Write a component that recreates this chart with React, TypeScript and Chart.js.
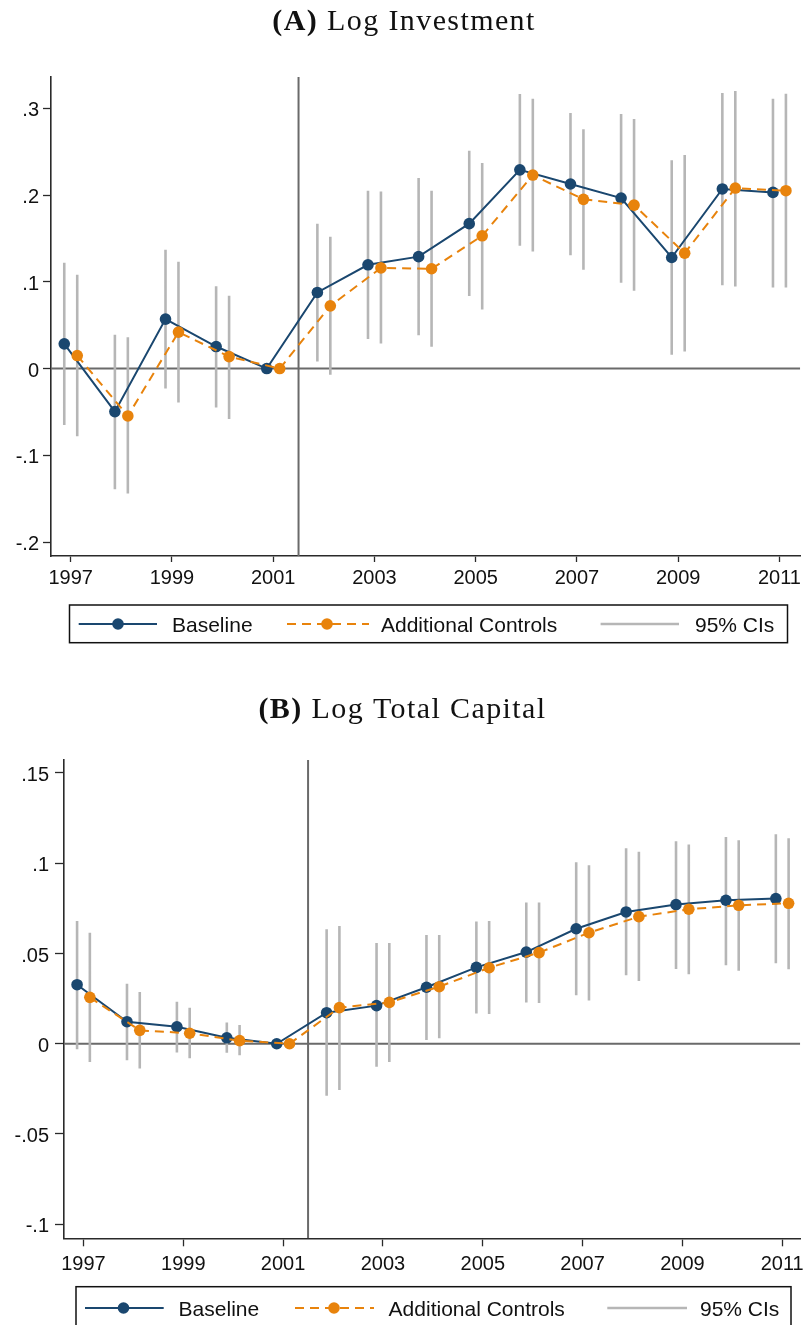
import React, { useEffect, useRef } from "react";
import { Chart, registerables } from "chart.js";

Chart.register(...registerables);

// ---------- data ----------
const years = [1997, 1998, 1999, 2000, 2001, 2002, 2003, 2004, 2005, 2006, 2007, 2008, 2009, 2010, 2011];
const xTickValues = [1997, 1999, 2001, 2003, 2005, 2007, 2009, 2011];
const xTickLabels = ["1997", "1999", "2001", "2003", "2005", "2007", "2009", "2011"];
const eventYear = 2001.5;

// Panel A: Log Investment
const invBase = [0.0285, -0.0496, 0.057, 0.0254, 0, 0.0877, 0.1196, 0.129, 0.167, 0.229, 0.2127, 0.1965, 0.128, 0.207, 0.203];
const invBaseLo = [-0.065, -0.139, -0.023, -0.045, null, 0.008, 0.034, 0.0385, 0.0835, 0.1415, 0.1307, 0.099, 0.0158, 0.096, 0.0934];
const invBaseHi = [0.122, 0.039, 0.137, 0.095, null, 0.167, 0.205, 0.2196, 0.251, 0.3165, 0.2946, 0.2934, 0.24, 0.3176, 0.311];
const invCtrl = [0.015, -0.0546, 0.042, 0.0138, 0, 0.0723, 0.116, 0.115, 0.153, 0.223, 0.195, 0.1884, 0.133, 0.208, 0.205];
const invCtrlLo = [-0.078, -0.144, -0.039, -0.058, null, -0.007, 0.029, 0.025, 0.068, 0.135, 0.1138, 0.0896, 0.0196, 0.0946, 0.0934];
const invCtrlHi = [0.108, 0.036, 0.123, 0.084, null, 0.152, 0.204, 0.205, 0.237, 0.311, 0.2757, 0.2876, 0.246, 0.32, 0.3166];
const invYTicks = [-0.2, -0.1, 0, 0.1, 0.2, 0.3];
const invYLabels = ["-.2", "-.1", "0", ".1", ".2", ".3"];

// Panel B: Log Total Capital
const capBase = [0.0327, 0.0122, 0.0094, 0.0033, 0, 0.0172, 0.0211, 0.0313, 0.0423, 0.0508, 0.0637, 0.073, 0.0771, 0.0795, 0.0804];
const capBaseLo = [-0.0031, -0.0092, -0.0048, -0.005, null, -0.0288, -0.0127, 0.002, 0.0168, 0.0229, 0.0268, 0.0379, 0.0414, 0.0435, 0.0446];
const capBaseHi = [0.068, 0.0333, 0.0233, 0.0117, null, 0.0634, 0.0558, 0.0603, 0.0677, 0.0782, 0.1005, 0.1083, 0.1122, 0.1146, 0.1161];
const capCtrl = [0.0257, 0.0074, 0.0058, 0.0017, 0, 0.02, 0.0229, 0.0316, 0.0421, 0.0505, 0.0615, 0.0704, 0.0745, 0.0767, 0.0778];
const capCtrlLo = [-0.0101, -0.0137, -0.0081, -0.0064, null, -0.0257, -0.0101, 0.003, 0.0165, 0.0226, 0.024, 0.0348, 0.0385, 0.0405, 0.0412];
const capCtrlHi = [0.0615, 0.0287, 0.02, 0.0104, null, 0.0652, 0.0558, 0.0603, 0.068, 0.0782, 0.0989, 0.1063, 0.1104, 0.1128, 0.1139];
const capYTicks = [-0.1, -0.05, 0, 0.05, 0.1, 0.15];
const capYLabels = ["-.1", "-.05", "0", ".05", ".1", ".15"];

const seriesLabels = ["Baseline", "Additional Controls", "95% CIs"];

// ---------- styles ----------
const NAVY = "#1a476f";
const ORANGE = "#e8830c";
const CI_GRAY = "#b6b6b6";
const REF_GRAY = "#6a6a6a";
const AXIS = "#2a2a2a";
const SANS = "'Liberation Sans', Arial, Helvetica, sans-serif";
const SERIF = "'Liberation Serif', 'Times New Roman', serif";
const OFFSET = 0.128;

type Pt = { x: number; y: number | null };

function ciSegments(lo: (number | null)[], hi: (number | null)[], lo2: (number | null)[], hi2: (number | null)[]): Pt[] {
  const out: Pt[] = [];
  years.forEach((yr, i) => {
    if (lo[i] != null && hi[i] != null) {
      out.push({ x: yr - OFFSET, y: lo[i] }, { x: yr - OFFSET, y: hi[i] }, { x: yr - OFFSET, y: null });
    }
    if (lo2[i] != null && hi2[i] != null) {
      out.push({ x: yr + OFFSET, y: lo2[i] }, { x: yr + OFFSET, y: hi2[i] }, { x: yr + OFFSET, y: null });
    }
  });
  return out;
}

const titlePlugin = {
  id: "panelTitle",
  afterDraw(chart: any, _args: any, opts: any) {
    const ctx = chart.ctx as CanvasRenderingContext2D;
    ctx.save();
    ctx.fillStyle = "#111";
    ctx.textBaseline = "alphabetic";
    ctx.textAlign = "left";
    (ctx as any).letterSpacing = opts.spacing + "px";
    ctx.font = `bold ${opts.size}px ${SERIF}`;
    const w1 = ctx.measureText(opts.bold + " ").width;
    ctx.font = `${opts.size}px ${SERIF}`;
    const w2 = ctx.measureText(opts.text).width;
    const x0 = opts.cx - (w1 + w2) / 2;
    ctx.font = `bold ${opts.size}px ${SERIF}`;
    ctx.fillText(opts.bold, x0, opts.y);
    ctx.font = `${opts.size}px ${SERIF}`;
    ctx.fillText(opts.text, x0 + w1, opts.y);
    ctx.restore();
  },
};

const legendPlugin = {
  id: "boxLegend",
  afterDraw(chart: any, _args: any, opts: any) {
    const ctx = chart.ctx as CanvasRenderingContext2D;
    ctx.save();
    ctx.strokeStyle = "#111";
    ctx.lineWidth = 1.5;
    ctx.strokeRect(opts.box[0], opts.box[1], opts.box[2] - opts.box[0], opts.box[3] - opts.box[1]);
    ctx.font = `21px ${SANS}`;
    ctx.textBaseline = "alphabetic";
    ctx.textAlign = "left";
    opts.items.forEach((it: any, i: number) => {
      ctx.beginPath();
      ctx.strokeStyle = it.color;
      ctx.lineWidth = it.width;
      ctx.setLineDash(it.dash || []);
      ctx.moveTo(it.x1, opts.lineY);
      ctx.lineTo(it.x2, opts.lineY);
      ctx.stroke();
      ctx.setLineDash([]);
      if (it.marker != null) {
        ctx.beginPath();
        ctx.fillStyle = it.color;
        ctx.arc(it.marker, opts.lineY, 5.8, 0, Math.PI * 2);
        ctx.fill();
      }
      ctx.fillStyle = "#111";
      ctx.fillText(seriesLabels[i], it.textX, opts.textY);
    });
    ctx.restore();
  },
};

type PanelProps = {
  top: number;
  height: number;
  base: number[];
  baseLo: (number | null)[];
  baseHi: (number | null)[];
  ctrl: number[];
  ctrlLo: (number | null)[];
  ctrlHi: (number | null)[];
  yTicks: number[];
  yLabels: string[];
  yMin: number;
  yMax: number;
  xMin: number;
  xMax: number;
  yAxisWidth: number;
  padding: { left: number; right: number; top: number; bottom: number };
  yTickLen: number;
  yTickPad: number;
  xTickLen: number;
  xTickPad: number;
  title: any;
  legend: any;
};

function Panel(p: PanelProps) {
  const ref = useRef<HTMLCanvasElement>(null);
  useEffect(() => {
    if (!ref.current) return;
    const baseData = years.map((yr, i) => ({ x: yr - OFFSET, y: p.base[i] }));
    const ctrlData = years.map((yr, i) => ({ x: yr + OFFSET, y: p.ctrl[i] }));
    const chart = new Chart(ref.current, {
      type: "line",
      data: {
        datasets: [
          {
            label: seriesLabels[1],
            data: ctrlData,
            borderColor: ORANGE,
            backgroundColor: ORANGE,
            borderWidth: 2,
            borderDash: [9, 6],
            pointRadius: 5.8,
            pointBorderWidth: 0,
            pointBackgroundColor: ORANGE,
            fill: false,
            order: 0,
          },
          {
            label: seriesLabels[0],
            data: baseData,
            borderColor: NAVY,
            backgroundColor: NAVY,
            borderWidth: 2,
            pointRadius: 5.8,
            pointBorderWidth: 0,
            pointBackgroundColor: NAVY,
            fill: false,
            order: 1,
          },
          {
            label: seriesLabels[2],
            data: ciSegments(p.baseLo, p.baseHi, p.ctrlLo, p.ctrlHi) as any,
            borderColor: CI_GRAY,
            borderWidth: 2.6,
            pointRadius: 0,
            spanGaps: false,
            fill: false,
            order: 2,
          },
          {
            label: "zero",
            data: [
              { x: p.xMin, y: 0 },
              { x: p.xMax, y: 0 },
            ],
            borderColor: REF_GRAY,
            borderWidth: 2,
            pointRadius: 0,
            fill: false,
            order: 3,
          },
          {
            label: "event",
            data: [
              { x: eventYear, y: p.yMin },
              { x: eventYear, y: p.yMax },
            ],
            borderColor: REF_GRAY,
            borderWidth: 2,
            pointRadius: 0,
            fill: false,
            order: 3,
          },
        ],
      },
      options: {
        animation: false,
        responsive: false,
        maintainAspectRatio: false,
        events: [],
        layout: { padding: p.padding },
        plugins: {
          legend: { display: false },
          tooltip: { enabled: false },
          title: { display: false },
          panelTitle: p.title,
          boxLegend: p.legend,
        } as any,
        scales: {
          x: {
            type: "linear",
            min: p.xMin,
            max: p.xMax,
            afterBuildTicks: (s: any) => {
              s.ticks = xTickValues.map((v) => ({ value: v }));
            },
            afterFit: (s: any) => {
              s.height = 45;
              s.paddingLeft = 0;
              s.paddingRight = 0;
            },
            ticks: {
              callback: (_v: any, i: number) => xTickLabels[i],
              font: { family: SANS, size: 20 },
              color: "#111",
              padding: p.xTickPad,
              maxRotation: 0,
              autoSkip: false,
            },
            grid: {
              drawOnChartArea: false,
              drawTicks: true,
              tickLength: p.xTickLen,
              tickColor: AXIS,
              tickWidth: 1.3,
            } as any,
            border: { display: true, color: AXIS, width: 1.6 },
          },
          y: {
            type: "linear",
            min: p.yMin,
            max: p.yMax,
            afterBuildTicks: (s: any) => {
              s.ticks = p.yTicks.map((v) => ({ value: v }));
            },
            afterFit: (s: any) => {
              s.width = p.yAxisWidth;
              s.paddingTop = 0;
              s.paddingBottom = 0;
            },
            ticks: {
              callback: (_v: any, i: number) => p.yLabels[i],
              font: { family: SANS, size: 20 },
              color: "#111",
              padding: p.yTickPad,
              labelOffset: 2.5,
              autoSkip: false,
            },
            grid: {
              drawOnChartArea: false,
              drawTicks: true,
              tickLength: p.yTickLen,
              tickColor: AXIS,
              tickWidth: 1.3,
            } as any,
            border: { display: true, color: AXIS, width: 1.6 },
          },
        },
      },
      plugins: [titlePlugin, legendPlugin],
    } as any);
    return () => chart.destroy();
  }, []);
  return (
    <canvas
      ref={ref}
      width={806}
      height={p.height}
      style={{ position: "absolute", left: 0, top: p.top, width: 806, height: p.height }}
    />
  );
}

export default function App() {
  return (
    <div style={{ position: "absolute", left: 0, top: 0, width: 806, height: 1325, background: "#fff", overflow: "hidden" }}>
      <Panel
        top={0}
        height={655}
        base={invBase}
        baseLo={invBaseLo}
        baseHi={invBaseHi}
        ctrl={invCtrl}
        ctrlLo={invCtrlLo}
        ctrlHi={invCtrlHi}
        yTicks={invYTicks}
        yLabels={invYLabels}
        yMin={-0.216}
        yMax={0.336}
        xMin={1996.61}
        xMax={2011.41}
        yAxisWidth={51}
        padding={{ left: 0, right: 1, top: 77, bottom: 54 }}
        yTickLen={8}
        yTickPad={4}
        xTickLen={6}
        xTickPad={4}
        title={{ bold: "(A)", text: "Log Investment", cx: 404, y: 30, size: 30, spacing: 1.4 }}
        legend={{
          box: [69.5, 605, 787.5, 642.7],
          lineY: 624,
          textY: 631.5,
          items: [
            { x1: 78.7, x2: 157, marker: 118, textX: 172, color: NAVY, width: 2 },
            { x1: 287, x2: 369, marker: 327, textX: 381, color: ORANGE, width: 2, dash: [9, 6] },
            { x1: 600.6, x2: 679, marker: null, textX: 695, color: CI_GRAY, width: 2.6 },
          ],
        }}
      />
      <Panel
        top={655}
        height={670}
        base={capBase}
        baseLo={capBaseLo}
        baseHi={capBaseHi}
        ctrl={capCtrl}
        ctrlLo={capCtrlLo}
        ctrlHi={capCtrlHi}
        yTicks={capYTicks}
        yLabels={capYLabels}
        yMin={-0.1078}
        yMax={0.1572}
        xMin={1996.61}
        xMax={2011.36}
        yAxisWidth={64}
        padding={{ left: 0, right: 2, top: 105, bottom: 41.7 }}
        yTickLen={9}
        yTickPad={6}
        xTickLen={8}
        xTickPad={6}
        title={{ bold: "(B)", text: "Log Total Capital", cx: 402.5, y: 62.5, size: 30, spacing: 1.4 }}
        legend={{
          box: [76, 631.7, 791, 672],
          lineY: 653,
          textY: 660.5,
          items: [
            { x1: 85, x2: 163.7, marker: 123.5, textX: 178.6, color: NAVY, width: 2 },
            { x1: 295, x2: 374, marker: 334, textX: 388.6, color: ORANGE, width: 2, dash: [9, 6] },
            { x1: 607.3, x2: 687, marker: null, textX: 700, color: CI_GRAY, width: 2.6 },
          ],
        }}
      />
    </div>
  );
}
